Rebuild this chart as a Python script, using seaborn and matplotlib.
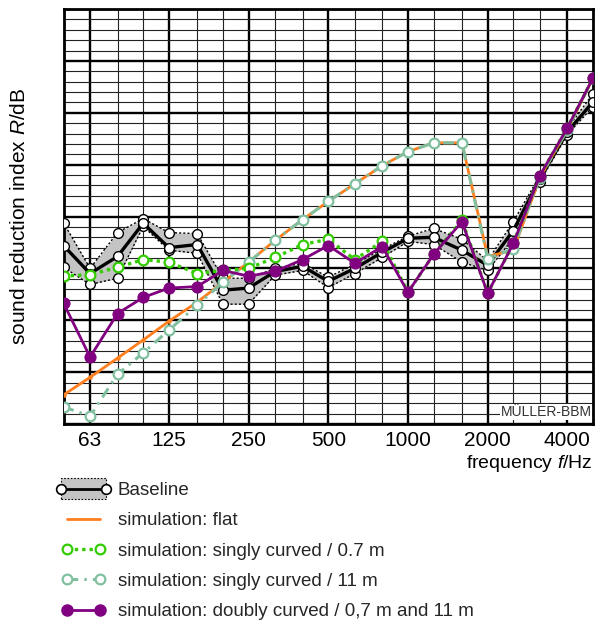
import matplotlib
matplotlib.use("Agg")
import matplotlib.pyplot as plt
import seaborn as sns
import pandas as pd
from matplotlib.lines import Line2D
from matplotlib.patches import Rectangle
from matplotlib.legend_handler import HandlerBase
from matplotlib.ticker import NullFormatter, MultipleLocator

# third-octave band centre frequencies (Hz)
freq = [50, 63, 80, 100, 125, 160, 200, 250, 315, 400, 500, 630, 800,
        1000, 1250, 1600, 2000, 2500, 3150, 4000, 5000]
octave_ticks = [63, 125, 250, 500, 1000, 2000, 4000]
octave_labels = ["63", "125", "250", "500", "1000", "2000", "4000"]

# measured baseline: mean with min/max spread (dB)
baseline_mean = [34.4, 29.0, 32.3, 38.7, 34.0, 34.6, 25.8, 26.2, 29.4, 30.4, 27.5,
                 30.0, 33.1, 35.8, 36.0, 33.5, 30.6, 37.3, 47.3, 56.3, 62.1]
baseline_max = [38.8, 30.0, 36.9, 39.6, 36.9, 36.7, 28.1, 28.1, 30.0, 31.0, 28.3,
                30.8, 33.7, 36.2, 37.7, 35.6, 31.5, 39.0, 47.9, 56.9, 63.7]
baseline_min = [30.2, 26.9, 28.1, 38.1, 33.5, 32.9, 23.1, 23.1, 28.7, 29.6, 26.3,
                29.0, 32.1, 35.2, 34.6, 31.2, 29.6, 35.8, 46.7, 55.8, 61.2]

# simulations (dB)
sim_flat = [5.6, 9.0, 12.7, 16.2, 19.8, 23.5, 27.3, 31.2, 35.4, 39.4, 42.9,
            46.3, 49.8, 52.5, 54.2, 54.2, 32.3, 33.5, 47.5, 56.7, 66.7]
sim_single_07 = [28.5, 28.8, 30.2, 31.7, 31.2, 29.0, 29.6, 30.0, 32.1, 34.6, 35.6,
                 31.7, 35.2, 25.4, 32.7, 39.3, 25.2, 34.8, 47.9, 57.1, 66.7]
sim_single_11 = [3.3, 1.5, 9.6, 13.7, 18.1, 22.9, 27.3, 31.2, 35.4, 39.4, 42.9,
                 46.3, 49.8, 52.5, 54.2, 54.2, 31.9, 33.8, 47.5, 56.7, 66.7]
sim_double = [23.3, 12.9, 21.3, 24.4, 26.2, 26.5, 29.6, 28.5, 29.4, 31.7, 34.4,
              31.0, 34.2, 25.4, 32.7, 39.0, 25.2, 34.8, 47.9, 57.1, 66.7]

labels = ["Baseline", "simulation: flat", "simulation: singly curved / 0.7 m",
          "simulation: singly curved / 11 m",
          "simulation: doubly curved / 0,7 m and 11 m"]

df = pd.DataFrame({"freq": freq, "mean": baseline_mean, "max": baseline_max,
                   "min": baseline_min, "flat": sim_flat, "s07": sim_single_07,
                   "s11": sim_single_11, "dbl": sim_double})

sns.set_theme(style="white")
plt.rcParams["font.family"] = ["Liberation Sans", "DejaVu Sans"]
plt.rcParams["mathtext.fontset"] = "custom"
plt.rcParams["mathtext.rm"] = "Liberation Sans"
plt.rcParams["mathtext.it"] = "Liberation Sans:italic"

C_ORANGE = "#ff7f1e"
C_GREEN = "#33cc00"
C_TEAL = "#80c0a0"
C_PURPLE = "#800080"
C_BAND = "#c4c4c4"

fig = plt.figure(figsize=(5.95, 6.23), dpi=100)
ax = fig.add_axes([63.5 / 595, 1 - 424 / 623, (593 - 63.5) / 595, 415 / 623])

# baseline spread band
ax.fill_between(df["freq"], df["min"], df["max"], color=C_BAND, lw=0, zorder=2)
for col in ["max", "min"]:
    sns.lineplot(data=df, x="freq", y=col, ax=ax, color="black", lw=1.0,
                 linestyle=(0, (1.5, 1.5)), marker="o", ms=7, mfc="white",
                 mec="black", mew=1.0, zorder=3)
sns.lineplot(data=df, x="freq", y="mean", ax=ax, color="black", lw=2.4,
             marker="o", ms=7, mfc="white", mec="black", mew=1.0, zorder=4)

# simulations
sns.lineplot(data=df, x="freq", y="flat", ax=ax, color=C_ORANGE, lw=2.0,
             marker="o", ms=2.5, mec=C_ORANGE, mfc=C_ORANGE, zorder=5)
sns.lineplot(data=df, x="freq", y="s11", ax=ax, color=C_TEAL, lw=2.2,
             linestyle=(0, (3.5, 2.0, 0.8, 2.0)), marker="o", ms=7, mfc="white",
             mec=C_TEAL, mew=1.6, zorder=6)
sns.lineplot(data=df, x="freq", y="s07", ax=ax, color=C_GREEN, lw=2.4,
             linestyle=(0, (1.0, 1.2)), marker="o", ms=7, mfc="white",
             mec=C_GREEN, mew=1.6, zorder=7)
sns.lineplot(data=df, x="freq", y="dbl", ax=ax, color=C_PURPLE, lw=2.0,
             marker="o", ms=8, mfc=C_PURPLE, mec=C_PURPLE, zorder=8)

# axes, grid
ax.set_xscale("log")
ax.set_xlim(50, 5000)
ax.set_ylim(0, 80)
ax.set_xticks(octave_ticks)
ax.set_xticklabels(octave_labels)
ax.set_xticks(freq, minor=True)
ax.xaxis.set_minor_formatter(NullFormatter())
ax.yaxis.set_major_locator(MultipleLocator(10))
ax.yaxis.set_minor_locator(MultipleLocator(2))
ax.set_yticklabels([])
ax.tick_params(axis="both", which="both", length=0)
ax.tick_params(axis="x", which="major", pad=5, labelsize=15, colors="black")
ax.grid(True, which="minor", color="#222222", lw=0.8, zorder=0)
ax.grid(True, which="major", color="black", lw=1.7, zorder=1)
ax.set_axisbelow(True)
for sp in ax.spines.values():
    sp.set_visible(True)
    sp.set_color("black")
    sp.set_linewidth(2.0)

ax.set_ylabel("sound reduction index $R$/dB", fontsize=15, color="black",
              labelpad=21)
ax.set_xlabel("frequency $f$/Hz", fontsize=14, color="black", loc="right")
ax.xaxis.set_label_coords(1.0, -0.07)

ax.text(0.997, 0.012, "MÜLLER-BBM", transform=ax.transAxes, ha="right",
        va="bottom", fontsize=10, color="#333333", zorder=9,
        bbox=dict(facecolor="white", edgecolor="none", pad=0.6))


class BandHandler(HandlerBase):
    def create_artists(self, legend, orig_handle, xdescent, ydescent, width,
                       height, fontsize, trans):
        y = -ydescent + height / 2
        rect = Rectangle((-xdescent, y - 0.78 * height), width, 1.56 * height,
                         facecolor=C_BAND, edgecolor="black", lw=0.8,
                         linestyle=(0, (1.5, 1.5)), transform=trans)
        line = Line2D([-xdescent, -xdescent + width], [y, y], color="black",
                      lw=2.0, marker="o", ms=7, mfc="white", mec="black",
                      mew=1.2, transform=trans)
        return [rect, line]


band_handle = Rectangle((0, 0), 1, 1)
h_flat = Line2D([], [], color=C_ORANGE, lw=2.0)
h_s07 = Line2D([], [], color=C_GREEN, lw=2.4, linestyle=(0, (1.0, 1.2)),
               marker="o", ms=7, mfc="white", mec=C_GREEN, mew=1.6)
h_s11 = Line2D([], [], color=C_TEAL, lw=2.2, linestyle=(0, (3.5, 2.0, 0.8, 2.0)),
               marker="o", ms=7, mfc="white", mec=C_TEAL, mew=1.6)
h_dbl = Line2D([], [], color=C_PURPLE, lw=2.0, marker="o", ms=8,
               mfc=C_PURPLE, mec=C_PURPLE)

fig.legend([band_handle, h_flat, h_s07, h_s11, h_dbl], labels,
           handler_map={Rectangle: BandHandler()},
           loc="upper left", bbox_to_anchor=(61 / 595, 1 - 482 / 623),
           frameon=False, fontsize=13.5, numpoints=2, handlelength=2.4,
           handletextpad=0.62, labelspacing=0.7, borderpad=0,
           borderaxespad=0)

fig.savefig("out.png", dpi=100)
